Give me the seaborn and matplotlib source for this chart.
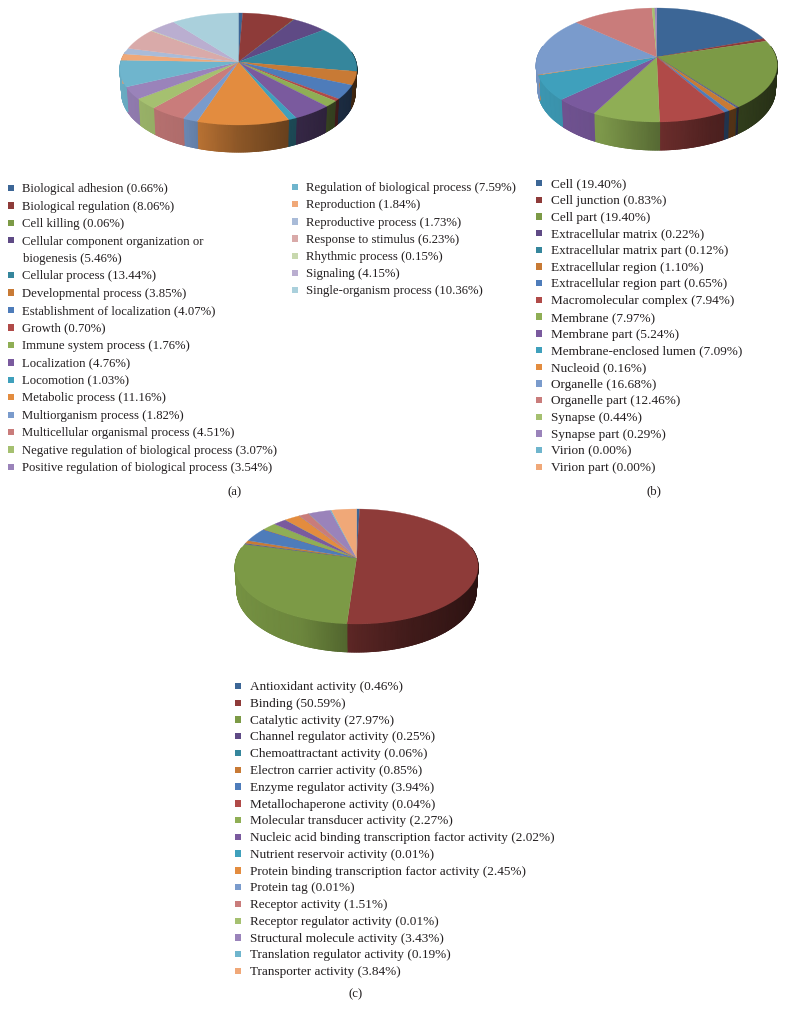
import numpy as np
import matplotlib
matplotlib.use("Agg")
import matplotlib.pyplot as plt
from matplotlib.colors import LinearSegmentedColormap, to_rgb
from matplotlib.collections import LineCollection
import seaborn as sns

sns.set_theme(style="white")
plt.rcParams['font.family'] = ['Liberation Serif', 'DejaVu Serif']

COLORS = ["#3c6696", "#8e3b39", "#7c9a46", "#5f4a85", "#35869c", "#c87a35",
          "#4e7cba", "#b04a48", "#8fae55", "#7a5a9e", "#3fa0bc", "#e38c3f",
          "#7a9bcc", "#c97c7b", "#a5c070", "#9a83ba", "#6fb5cd", "#f0a878",
          "#a9bbd8", "#d9aaa9", "#c8d8ae", "#baaed0", "#aad0dc"]

a_labels = ["Biological adhesion", "Biological regulation", "Cell killing",
            "Cellular component organization or\nbiogenesis", "Cellular process",
            "Developmental process", "Establishment of localization", "Growth",
            "Immune system process", "Localization", "Locomotion", "Metabolic process",
            "Multiorganism process", "Multicellular organismal process",
            "Negative regulation of biological process",
            "Positive regulation of biological process",
            "Regulation of biological process", "Reproduction", "Reproductive process",
            "Response to stimulus", "Rhythmic process", "Signaling",
            "Single-organism process"]
a_values = [0.66, 8.06, 0.06, 5.46, 13.44, 3.85, 4.07, 0.70, 1.76, 4.76, 1.03, 11.16,
            1.82, 4.51, 3.07, 3.54, 7.59, 1.84, 1.73, 6.23, 0.15, 4.15, 10.36]

b_labels = ["Cell", "Cell junction", "Cell part", "Extracellular matrix",
            "Extracellular matrix part", "Extracellular region",
            "Extracellular region part", "Macromolecular complex", "Membrane",
            "Membrane part", "Membrane-enclosed lumen", "Nucleoid", "Organelle",
            "Organelle part", "Synapse", "Synapse part", "Virion", "Virion part"]
b_values = [19.40, 0.83, 19.40, 0.22, 0.12, 1.10, 0.65, 7.94, 7.97, 5.24, 7.09, 0.16,
            16.68, 12.46, 0.44, 0.29, 0.00, 0.00]

c_labels = ["Antioxidant activity", "Binding", "Catalytic activity",
            "Channel regulator activity", "Chemoattractant activity",
            "Electron carrier activity", "Enzyme regulator activity",
            "Metallochaperone activity", "Molecular transducer activity",
            "Nucleic acid binding transcription factor activity",
            "Nutrient reservoir activity", "Protein binding transcription factor activity",
            "Protein tag", "Receptor activity", "Receptor regulator activity",
            "Structural molecule activity", "Translation regulator activity",
            "Transporter activity"]
c_values = [0.46, 50.59, 27.97, 0.25, 0.06, 0.85, 3.94, 0.04, 2.27, 2.02, 0.01, 2.45,
            0.01, 1.51, 0.01, 3.43, 0.19, 3.84]

fig = plt.figure(figsize=(7.85, 10.21), dpi=100)
ax = fig.add_axes([0, 0, 1, 1])
ax.axis("off")


def shade(u):
    return np.interp(u, [-1, -0.4, 0, 0.4, 1], [0.95, 0.87, 0.62, 0.45, 0.30])


def pie3d(values, cx, cy, rx, up, down, depth):
    k = (down - up) / (down + up)
    a = up * (1 + k)
    r = rx * np.sqrt(1 - k * k)
    frac = np.cumsum([0] + list(values)) / np.sum(values) * 2 * np.pi

    def rim(t):
        u, v = np.sin(t), np.cos(t)
        w = 1 + k * v
        return cx + r * u / w, cy - a * v / w, depth * (1 - k) / w

    grid = np.linspace(-1, 1, 256)
    for i, val in enumerate(values):
        if val <= 0:
            continue
        t = np.linspace(frac[i], frac[i + 1], max(3, int(val * 3.6) + 3))
        x, y, d = rim(t)
        col = np.array(to_rgb(COLORS[i]))
        front = np.cos(t) < 0.2
        if front.sum() >= 2:
            fx, fy, fd, ft = x[front], y[front], d[front], t[front]
            bx = cx + (fx - cx) * 0.985
            by = fy + fd
            cmap = LinearSegmentedColormap.from_list(
                f"s{i}", [tuple(col * s) for s in shade(grid)], N=256)
            ax.pcolormesh(np.vstack([fx, bx]), np.vstack([fy, by]),
                          np.vstack([np.sin(ft), np.sin(ft)]), cmap=cmap,
                          vmin=-1, vmax=1, shading="gouraud", zorder=2)
            pts = np.column_stack([bx, by])
            segs = np.stack([pts[:-1], pts[1:]], axis=1)
            ax.add_collection(LineCollection(
                segs, colors=[tuple(col * shade(s)) for s in np.sin(ft[:-1])],
                linewidths=0.7, zorder=2))
        ax.fill(np.r_[cx, x], np.r_[cy, y], color=COLORS[i], lw=0.2, zorder=5)


def legend(labels, values, sx, tx, y0, dy, fs):
    ys, xs, hues = [], [], []
    row = 0
    for lab, val in zip(labels, values):
        yy = y0 + dy * row
        parts = f"{lab} ({val:.2f}%)".split("\n")
        for n, part in enumerate(parts):
            ax.text(tx + n, yy + dy * n + 1.2, part, fontsize=fs, color="#231f20",
                    va="center", ha="left", zorder=10)
        xs.append(sx)
        ys.append(yy)
        hues.append(lab)
        row += len(parts)
    return xs, ys, hues


def squares(xs, ys, hues, start=0):
    sns.scatterplot(x=xs, y=ys, hue=hues, hue_order=hues,
                    palette=COLORS[start:start + len(hues)], marker="s", s=21,
                    linewidth=0, legend=False, ax=ax, zorder=10)


pie3d(a_values, 238.4, 62, 118.5, 49, 63, 27)
pie3d(b_values, 656.7, 57, 120.5, 49, 65, 28)
pie3d(c_values, 356.6, 558, 121.5, 49, 66, 28)

n1 = 16
squares(*legend(a_labels[:n1], a_values[:n1], 11, 22, 188, 279 / 16, 9.2))
squares(*legend(a_labels[n1:], a_values[n1:], 295, 306, 187, 17.2, 9.2), start=n1)
squares(*legend(b_labels, b_values, 539, 551, 183, 284 / 17, 9.5))
squares(*legend(c_labels, c_values, 238, 250, 686, 285 / 17, 9.5))

for txt, px, py in [("(a)", 235, 492), ("(b)", 654, 491), ("(c)", 356, 994)]:
    ax.text(px, py, txt, fontsize=9.2, color="#231f20", ha="center", va="center")

ax.set_xlim(0, 785)
ax.set_ylim(1021, 0)
fig.savefig("out.png", dpi=100)
